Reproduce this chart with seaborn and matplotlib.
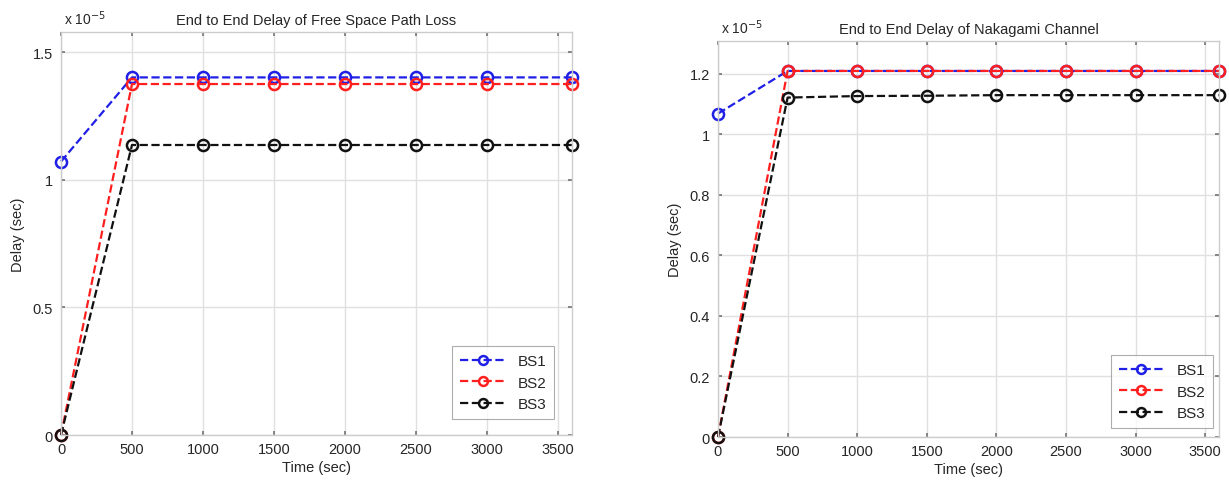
import matplotlib
matplotlib.use("Agg")
import matplotlib.pyplot as plt
import seaborn as sns
import pandas as pd
from matplotlib.ticker import FuncFormatter

# Data (delay in units of 1e-5 sec)
time_sec = [0, 500, 1000, 1500, 2000, 2500, 3000, 3600]
fspl_bs1 = [1.072, 1.402, 1.402, 1.402, 1.402, 1.402, 1.402, 1.402]
fspl_bs2 = [0.0, 1.376, 1.376, 1.376, 1.376, 1.376, 1.376, 1.376]
fspl_bs3 = [0.0, 1.137, 1.137, 1.137, 1.137, 1.137, 1.137, 1.137]
naka_bs1 = [1.069, 1.210, 1.210, 1.210, 1.210, 1.210, 1.210, 1.210]
naka_bs2 = [0.0, 1.210, 1.210, 1.210, 1.210, 1.210, 1.210, 1.210]
naka_bs3 = [0.0, 1.122, 1.127, 1.128, 1.130, 1.130, 1.130, 1.130]
series_names = ["BS1", "BS2", "BS3"]
series_colors = ["#1f1fe6", "#ff1f1f", "#111111"]
x_ticks = [0, 500, 1000, 1500, 2000, 2500, 3000, 3500]
fspl_yticks = [0, 0.5, 1, 1.5]
naka_yticks = [0, 0.2, 0.4, 0.6, 0.8, 1.0, 1.2]
titles = ["End to End Delay of Free Space Path Loss", "End to End Delay of Nakagami Channel"]

sns.set_theme(style="whitegrid")
plt.rcParams['font.family'] = ['Liberation Sans', 'DejaVu Sans']

fig = plt.figure(figsize=(12.29, 4.81), dpi=100)
W, H = 1229, 481
ax1 = fig.add_axes([61 / W, 1 - 436 / H, (572 - 61) / W, (436 - 33) / H])
ax2 = fig.add_axes([718 / W, 1 - 438 / H, (1219 - 718) / W, (438 - 42) / H])

fmt = FuncFormatter(lambda v, p: ("%g" % v))

def draw(ax, ys, ylim, yticks, title, leg_anchor):
    for name, y, c in zip(series_names, ys, series_colors):
        df = pd.DataFrame({"Time": time_sec, "Delay": y})
        sns.lineplot(data=df, x="Time", y="Delay", ax=ax, color=c, linestyle="--",
                     marker="o", markersize=8, markerfacecolor="none",
                     markeredgecolor=c, markeredgewidth=1.8, linewidth=1.6,
                     label=name, clip_on=False)
    ax.set_xlim(0, 3600)
    ax.set_ylim(*ylim)
    ax.set_xticks(x_ticks)
    ax.set_yticks(yticks)
    ax.yaxis.set_major_formatter(fmt)
    ax.set_xlabel("Time (sec)", fontsize=10.5, labelpad=3)
    ax.set_ylabel("Delay (sec)", fontsize=10.5, labelpad=5)
    ax.set_title(title, fontsize=10.5, pad=6)
    ax.tick_params(axis="x", labelsize=10.5, pad=5)
    ax.tick_params(axis="y", labelsize=10.5, pad=6)
    ax.tick_params(axis="both", length=3, direction="in",
                   top=True, right=True, bottom=True, left=True, color="#777777")
    ax.grid(True, color="#e0e0e0", linewidth=1.0)
    for s in ax.spines.values():
        s.set_color("#cccccc")
        s.set_linewidth(1.0)
    ax.text(0.005, 1.012, r"x 10$^{-5}$", transform=ax.transAxes, fontsize=10,
            ha="left", va="bottom")
    leg = ax.legend(loc="lower right", fontsize=11, frameon=True, fancybox=False,
                    handlelength=3.0, borderpad=0.5, labelspacing=0.5,
                    markerscale=0.8, borderaxespad=0.0, bbox_to_anchor=leg_anchor)
    leg.get_frame().set_edgecolor("#999999")
    leg.get_frame().set_linewidth(0.8)

draw(ax1, [fspl_bs1, fspl_bs2, fspl_bs3], (0, 1.58), fspl_yticks, titles[0], (0.965, 0.04))
draw(ax2, [naka_bs1, naka_bs2, naka_bs3], (0, 1.309), naka_yticks, titles[1], (0.988, 0.023))

fig.savefig("out.png", dpi=100)
